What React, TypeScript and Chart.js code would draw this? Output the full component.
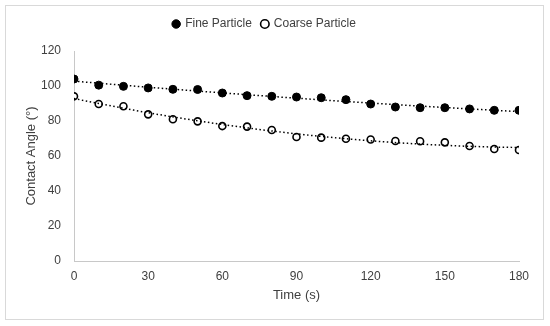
import React, { useEffect, useRef } from 'react';
import { Chart, registerables } from 'chart.js';

Chart.register(...registerables);

// ---- data ----
const times = [0, 10, 20, 30, 40, 50, 60, 70, 80, 90, 100, 110, 120, 130, 140, 150, 160, 170, 180];
const fineAngles = [104, 100.5, 99.8, 98.9, 98.1, 98, 96, 94.5, 94.1, 93.7, 93.3, 92.2, 89.7, 88, 87.6, 87.6, 86.9, 86.1, 86.1];
const coarseAngles = [94.1, 89.7, 88.4, 83.8, 81, 79.8, 77.1, 76.8, 74.9, 70.9, 70.5, 69.9, 69.4, 68.6, 68.4, 67.8, 65.7, 64, 63.4];
const seriesNames = ['Fine Particle', 'Coarse Particle'];
const xTickValues = [0, 30, 60, 90, 120, 150, 180];
const yTickValues = [0, 20, 40, 60, 80, 100, 120];
const xTitle = 'Time (s)';
const yTitle = 'Contact Angle (°)';

// quadratic least-squares trendline derived from the data
function quadFit(xs: number[], ys: number[]) {
  let s0 = 0, s1 = 0, s2 = 0, s3 = 0, s4 = 0, t0 = 0, t1 = 0, t2 = 0;
  for (let i = 0; i < xs.length; i++) {
    const x = xs[i], y = ys[i];
    s0 += 1; s1 += x; s2 += x * x; s3 += x * x * x; s4 += x * x * x * x;
    t0 += y; t1 += x * y; t2 += x * x * y;
  }
  const M = [
    [s0, s1, s2, t0],
    [s1, s2, s3, t1],
    [s2, s3, s4, t2],
  ];
  for (let c = 0; c < 3; c++) {
    let p = c;
    for (let r = c + 1; r < 3; r++) if (Math.abs(M[r][c]) > Math.abs(M[p][c])) p = r;
    [M[c], M[p]] = [M[p], M[c]];
    for (let r = 0; r < 3; r++) {
      if (r === c) continue;
      const f = M[r][c] / M[c][c];
      for (let k = c; k < 4; k++) M[r][k] -= f * M[c][k];
    }
  }
  const a = M[0][3] / M[0][0], b = M[1][3] / M[1][1], cc = M[2][3] / M[2][2];
  return (x: number) => a + b * x + cc * x * x;
}

function trendPoints(xs: number[], ys: number[]) {
  const f = quadFit(xs, ys);
  const pts: { x: number; y: number }[] = [];
  const x0 = xs[0], x1 = xs[xs.length - 1];
  for (let i = 0; i <= 60; i++) {
    const x = x0 + ((x1 - x0) * i) / 60;
    pts.push({ x, y: f(x) });
  }
  return pts;
}

const legendGap = {
  id: 'legendGap',
  beforeLayout(chart: any) {
    const lg = chart.legend;
    if (lg && !lg.__gapPatched) {
      const orig = lg.fit;
      lg.fit = function () {
        orig.call(this);
        this.height += 11;
      };
      lg.__gapPatched = true;
    }
  },
  afterLayout(chart: any) {
    const lg = chart.legend;
    if (lg) {
      lg.left -= 5;
      lg.right -= 5;
    }
  },
};

export default function App() {
  const ref = useRef<HTMLCanvasElement | null>(null);

  useEffect(() => {
    if (!ref.current) return;
    const textColor = '#404040';
    const font = { family: 'Liberation Sans, Arial, sans-serif', size: 12 };
    const titleFont = { family: 'Liberation Sans, Arial, sans-serif', size: 13 };
    const chart = new Chart(ref.current, {
      type: 'scatter',
      data: {
        datasets: [
          {
            label: seriesNames[0],
            data: times.map((t, i) => ({ x: t, y: fineAngles[i] })),
            pointRadius: 4,
            pointBackgroundColor: '#000',
            pointBorderColor: '#000',
            backgroundColor: '#000',
            borderColor: '#000',
            pointBorderWidth: 1,
            borderWidth: 1,
            order: 1,
          },
          {
            label: seriesNames[1],
            data: times.map((t, i) => ({ x: t, y: coarseAngles[i] })),
            pointRadius: 3.5,
            pointBackgroundColor: '#fff',
            pointBorderColor: '#000',
            backgroundColor: '#fff',
            borderColor: '#000',
            pointBorderWidth: 1.6,
            borderWidth: 1.6,
            order: 1,
          },
          {
            type: 'line',
            label: 'fine-trend',
            data: trendPoints(times, fineAngles),
            showLine: true,
            pointRadius: 0,
            borderColor: '#000',
            borderWidth: 1.5,
            borderDash: [1.5, 2.5],
            fill: false,
            tension: 0,
            order: 0,
          } as any,
          {
            type: 'line',
            label: 'coarse-trend',
            data: trendPoints(times, coarseAngles),
            showLine: true,
            pointRadius: 0,
            borderColor: '#000',
            borderWidth: 1.5,
            borderDash: [1.5, 2.5],
            fill: false,
            tension: 0,
            order: 0,
          } as any,
        ],
      },
      options: {
        animation: false,
        responsive: false,
        layout: { padding: { top: 8, left: 20, right: 31, bottom: 19 } },
        plugins: {
          tooltip: { enabled: false },
          legend: {
            position: 'top',
            labels: {
              usePointStyle: true,
              pointStyle: 'circle',
              boxWidth: 6,
              boxHeight: 6,
              padding: 10,
              color: textColor,
              font,
              filter: (item: any) => item.datasetIndex < 2,
            },
          },
        },
        scales: {
          x: {
            type: 'linear',
            min: 0,
            max: 180,
            afterBuildTicks: (s: any) => {
              s.ticks = xTickValues.map((v) => ({ value: v }));
            },
            afterFit: (s: any) => {
              s.height = 46;
            },
            grid: { display: false, drawTicks: false },
            border: { display: true, color: '#c8c8c8', width: 1 },
            ticks: { color: textColor, font, padding: 8, maxRotation: 0 },
            title: { display: true, text: xTitle, color: textColor, font: titleFont, padding: { top: 4, bottom: 4 } },
          },
          y: {
            type: 'linear',
            min: 0,
            max: 120,
            afterBuildTicks: (s: any) => {
              s.ticks = yTickValues.map((v) => ({ value: v }));
            },
            afterFit: (s: any) => {
              s.width = 54;
            },
            grid: { display: false, drawTicks: false },
            border: { display: true, color: '#c8c8c8', width: 1 },
            ticks: { color: textColor, font, padding: 13 },
            title: { display: true, text: yTitle, color: textColor, font: titleFont, padding: { top: 4, bottom: 4 } },
          },
        },
      },
      plugins: [legendGap],
    } as any);
    return () => chart.destroy();
  }, []);

  return (
    <div style={{ position: 'absolute', left: 0, top: 0, width: 550, height: 326, background: '#fff' }}>
      <div
        style={{
          position: 'absolute',
          left: 5,
          top: 5,
          width: 539,
          height: 315,
          border: '1px solid #d9d9d9',
          boxSizing: 'border-box',
        }}
      />
      <canvas ref={ref} width={550} height={326} style={{ position: 'absolute', left: 0, top: 0, display: 'block' }} />
    </div>
  );
}
